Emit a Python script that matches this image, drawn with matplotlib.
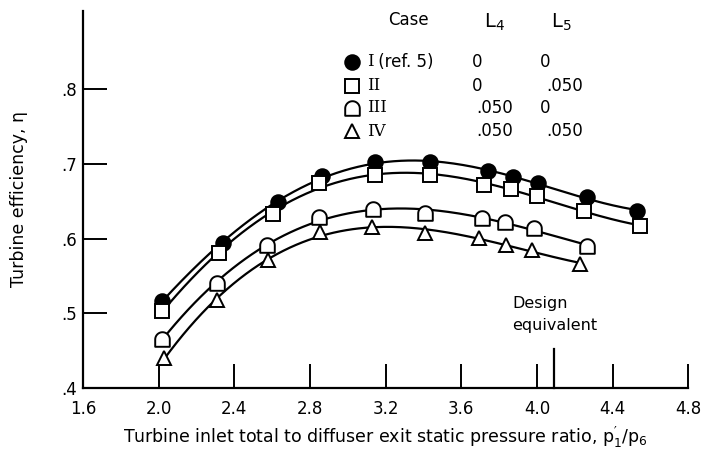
import numpy as np
import matplotlib
matplotlib.use("Agg")
import matplotlib.pyplot as plt
from matplotlib.path import Path

plt.rcParams['font.family'] = ['DejaVu Sans']

# case I (ref. 5)
x1 = [2.02, 2.34, 2.63, 2.865, 3.145, 3.435, 3.74, 3.875, 4.005, 4.265, 4.53]
y1 = [0.517, 0.594, 0.649, 0.684, 0.702, 0.702, 0.690, 0.682, 0.674, 0.656, 0.637]
# case II
x2 = [2.02, 2.32, 2.605, 2.85, 3.145, 3.435, 3.72, 3.865, 4.0, 4.25, 4.545]
y2 = [0.503, 0.581, 0.633, 0.674, 0.685, 0.685, 0.672, 0.666, 0.657, 0.637, 0.617]
# case III
x3 = [2.02, 2.31, 2.575, 2.85, 3.135, 3.41, 3.71, 3.83, 3.985, 4.265]
y3 = [0.466, 0.540, 0.591, 0.629, 0.639, 0.634, 0.627, 0.622, 0.614, 0.590]
# case IV
x4 = [2.03, 2.31, 2.58, 2.855, 3.13, 3.41, 3.695, 3.835, 3.975, 4.23]
y4 = [0.440, 0.518, 0.571, 0.609, 0.615, 0.607, 0.601, 0.591, 0.585, 0.566]

numerals = ["I", "II", "III", "IV"]
notes = [" (ref. 5)", "", "", ""]
l4 = ["0", "0", ".050", ".050"]
l5 = ["0", ".050", "0", ".050"]
design_x = 4.09

xticks = [1.6, 2.0, 2.4, 2.8, 3.2, 3.6, 4.0, 4.4, 4.8]
xlabels = ["1.6", "2.0", "2.4", "2.8", "3.2", "3.6", "4.0", "4.4", "4.8"]
yticks = [0.4, 0.5, 0.6, 0.7, 0.8]
ylabels = [".4", ".5", ".6", ".7", ".8"]

# arch marker: flat bottom, round top
t = np.linspace(0, np.pi, 25)
arch_v = np.vstack([[[1, -1]], np.column_stack([np.cos(t), np.sin(t)]), [[-1, -1], [1, -1]]])
arch = Path(arch_v, closed=True)

fig = plt.figure(figsize=(7.03, 4.51), dpi=100)
ax = fig.add_axes([0.118, 0.140, 0.861, 0.836])

series = [(x1, y1, 'o', 'black'), (x2, y2, 's', 'white'),
          (x3, y3, arch, 'white'), (x4, y4, '^', 'white')]
msize = [10.5, 9.5, 10.5, 10.5]

for i, (xs, ys, m, fc) in enumerate(series):
    c = np.polyfit(xs, ys, 4)
    xx = np.linspace(xs[0], xs[-1], 200)
    ax.plot(xx, np.polyval(c, xx), color='black', lw=1.6, zorder=2)
    ax.plot(xs, ys, ls='none', marker=m, ms=msize[i], mfc=fc,
            mec='black', mew=1.4, zorder=3)

ax.set_xlim(1.6, 4.8)
ax.set_ylim(0.4, 0.905)
ax.set_xticks(xticks)
ax.set_xticklabels(xlabels)
ax.set_yticks(yticks)
ax.set_yticklabels(ylabels)
ax.tick_params(direction='in', length=17, width=1.4, labelsize=12)
ax.tick_params(axis='x', pad=9)
ax.tick_params(axis='y', pad=4)
for s in ['top', 'right']:
    ax.spines[s].set_visible(False)
for s in ['left', 'bottom']:
    ax.spines[s].set_linewidth(1.6)

# design equivalent mark
ax.plot([design_x, design_x], [0.4, 0.452], color='black', lw=1.6, clip_on=False)
ax.text(design_x - 0.22, 0.498, "Design\nequivalent", fontsize=11.5, ha='left',
        va='center', linespacing=1.55)

ax.set_xlabel("Turbine inlet total to diffuser exit static pressure ratio, $\\mathregular{p_1'/p_6}$",
              fontsize=12.5, labelpad=5)
ax.set_ylabel("Turbine efficiency, \u03b7", fontsize=12.5, labelpad=24)

# case table
fs = 12
fig.text(408 / 703, 1 - 20 / 451, "Case", fontsize=fs, ha='center', va='center')
fig.text(494 / 703, 1 - 22 / 451, "$\\mathregular{L_4}$", fontsize=fs + 2, ha='center', va='center')
fig.text(561 / 703, 1 - 22 / 451, "$\\mathregular{L_5}$", fontsize=fs + 2, ha='center', va='center')
rows_y = [62, 86, 108, 131]
for i, (xs, ys, m, fc) in enumerate(series):
    yy = 1 - rows_y[i] / 451
    fig.lines.append(plt.Line2D([352 / 703], [yy], transform=fig.transFigure, ls='none',
                                marker=m, ms=msize[i], mfc=fc, mec='black', mew=1.4))
    tx = fig.text(367 / 703, yy, numerals[i], fontsize=fs, ha='left', va='center',
                  family='DejaVu Serif')
    if notes[i]:
        fig.text(373 / 703, yy, notes[i], fontsize=fs, ha='left', va='center')
    fig.text((472 if l4[i] == "0" else 476) / 703, yy, l4[i], fontsize=fs, ha='left', va='center')
    fig.text((540 if l5[i] == "0" else 546) / 703, yy, l5[i], fontsize=fs, ha='left', va='center')

fig.savefig("out.png", dpi=100)
